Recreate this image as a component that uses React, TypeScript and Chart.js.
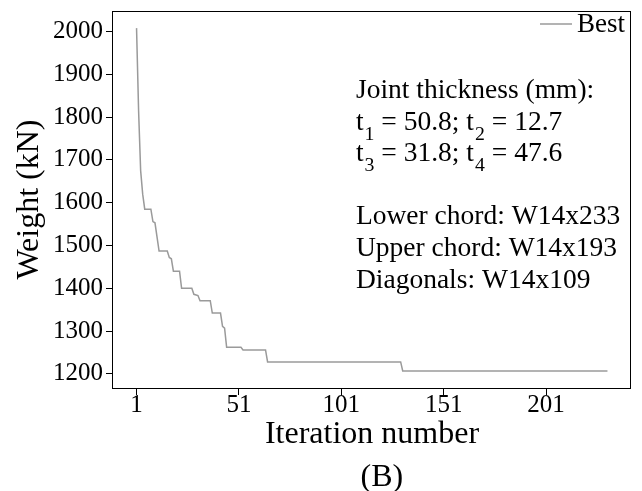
import { useEffect, useRef } from "react";
import { Chart, registerables } from "chart.js";

Chart.register(...registerables);

// Convergence history (corner points of the step curve)
const iterations = [1, 2, 3, 4, 5, 8, 9, 10, 12, 16, 17, 18, 19, 22, 23, 28, 29, 31, 32, 37, 38, 42, 43, 44, 45, 52, 53, 64, 65, 130, 131, 231];
const weights = [2008, 1815, 1675, 1620, 1585, 1585, 1556, 1553, 1487, 1487, 1472, 1469, 1440, 1440, 1400, 1400, 1386, 1383, 1371, 1371, 1342, 1342, 1311, 1307, 1262, 1262, 1256, 1256, 1228, 1228, 1207, 1207];

const xTicks = [1, 51, 101, 151, 201];
const yTicks = [1200, 1300, 1400, 1500, 1600, 1700, 1800, 1900, 2000];

const seriesLabel = "Best";
const xTitle = "Iteration number";
const yTitle = "Weight (kN)";
const panelLabel = "(B)";
const noteLines = [
  "Joint thickness (mm):",
  "t_1 = 50.8; t_2 = 12.7",
  "t_3 = 31.8; t_4 = 47.6",
  "",
  "Lower chord: W14x233",
  "Upper chord: W14x193",
  "Diagonals: W14x109",
];

const FONT = "'Liberation Serif', 'Times New Roman', serif";

const framePlugin = {
  id: "frame",
  afterDraw(chart: any) {
    const { ctx, chartArea } = chart;
    const { left, top, right, bottom } = chartArea;
    ctx.save();
    ctx.strokeStyle = "#000";
    ctx.lineWidth = 1;
    ctx.strokeRect(left - 0.5, top + 0.5, right - left, bottom - top);
    ctx.restore();
  },
};

function drawRich(ctx: CanvasRenderingContext2D, text: string, x: number, y: number, size: number) {
  let cx = x;
  let i = 0;
  let buf = "";
  const flush = () => {
    if (!buf) return;
    ctx.font = `${size}px ${FONT}`;
    ctx.fillText(buf, cx, y);
    cx += ctx.measureText(buf).width;
    buf = "";
  };
  while (i < text.length) {
    const c = text[i];
    if (c === "_" && i + 1 < text.length) {
      flush();
      const sub = text[i + 1];
      const ss = size * 0.72;
      ctx.font = `${ss}px ${FONT}`;
      ctx.fillText(sub, cx + 1, y + size * 0.36);
      cx += ctx.measureText(sub).width + 1;
      i += 2;
      continue;
    }
    buf += c;
    i++;
  }
  flush();
}

const notesPlugin = {
  id: "notes",
  afterDraw(chart: any) {
    const { ctx, chartArea } = chart;
    const w = chartArea.right - chartArea.left;
    const x0 = chartArea.left + 0.469 * w;
    const y0 = chartArea.top + 87;
    ctx.save();
    ctx.fillStyle = "#000";
    ctx.textAlign = "left";
    ctx.textBaseline = "alphabetic";
    noteLines.forEach((line, i) => {
      if (line) drawRich(ctx, line, x0, y0 + i * 31.6, 27.5);
    });
    ctx.font = `32px ${FONT}`;
    ctx.textAlign = "center";
    ctx.fillText(panelLabel, chartArea.left + 0.519 * w, 486);

    // legend (inside the top-right corner of the axes)
    const ds = chart.data.datasets[0];
    const ly = chartArea.top + 13;
    const lx = chartArea.right - 91;
    ctx.strokeStyle = ds.borderColor;
    ctx.lineWidth = ds.borderWidth;
    ctx.beginPath();
    ctx.moveTo(lx, ly);
    ctx.lineTo(lx + 32, ly);
    ctx.stroke();
    ctx.font = `27px ${FONT}`;
    ctx.textAlign = "left";
    ctx.textBaseline = "middle";
    ctx.fillText(ds.label, lx + 37, ly + 1);
    ctx.restore();
  },
};

export default function App() {
  const ref = useRef<HTMLCanvasElement | null>(null);

  useEffect(() => {
    document.body.style.margin = "0";
    if (!ref.current) return;
    const chart = new Chart(ref.current, {
      type: "line",
      data: {
        datasets: [
          {
            label: seriesLabel,
            data: iterations.map((x, i) => ({ x, y: weights[i] })),
            borderColor: "#9a9a9a",
            backgroundColor: "#9a9a9a",
            borderWidth: 1.5,
            pointRadius: 0,
            tension: 0,
          },
        ],
      },
      options: {
        animation: false,
        responsive: false,
        maintainAspectRatio: false,
        layout: { padding: { top: 11, right: 11, left: 0, bottom: 0 } },
        plugins: {
          tooltip: { enabled: false },
          legend: { display: false },
        },
        scales: {
          x: {
            type: "linear",
            min: -10.5,
            max: 242.5,
            afterBuildTicks: (scale: any) => {
              scale.ticks = xTicks.map((v) => ({ value: v }));
            },
            afterFit: (scale: any) => {
              scale.height = 103;
              scale.paddingLeft = 0;
              scale.paddingRight = 0;
            },
            grid: { display: true, drawOnChartArea: false, drawTicks: true, tickLength: 7, tickColor: "#000", tickWidth: 1 },
            border: { display: false },
            ticks: { color: "#000", padding: -5, maxRotation: 0, font: { family: FONT, size: 25 }, callback: (v: any) => String(v) },
            title: { display: true, text: xTitle, color: "#000", font: { family: FONT, size: 32 }, padding: { top: 0, bottom: 37 } },
          },
          y: {
            type: "linear",
            min: 1167,
            max: 2048,
            afterBuildTicks: (scale: any) => {
              scale.ticks = yTicks.map((v) => ({ value: v }));
            },
            afterFit: (scale: any) => {
              scale.width = 113;
              scale.paddingTop = 0;
              scale.paddingBottom = 0;
            },
            grid: { display: true, drawOnChartArea: false, drawTicks: true, tickLength: 7, tickColor: "#000", tickWidth: 1 },
            border: { display: false },
            ticks: { color: "#000", padding: 3, font: { family: FONT, size: 25 }, callback: (v: any) => String(v) },
            title: { display: true, text: yTitle, color: "#000", font: { family: FONT, size: 32 }, padding: { top: 10, bottom: 0 } },
          },
        },
      },
      plugins: [framePlugin, notesPlugin],
    });
    return () => chart.destroy();
  }, []);

  return (
    <div style={{ width: 642, height: 491 }}>
      <canvas ref={ref} width={642} height={491} />
    </div>
  );
}
